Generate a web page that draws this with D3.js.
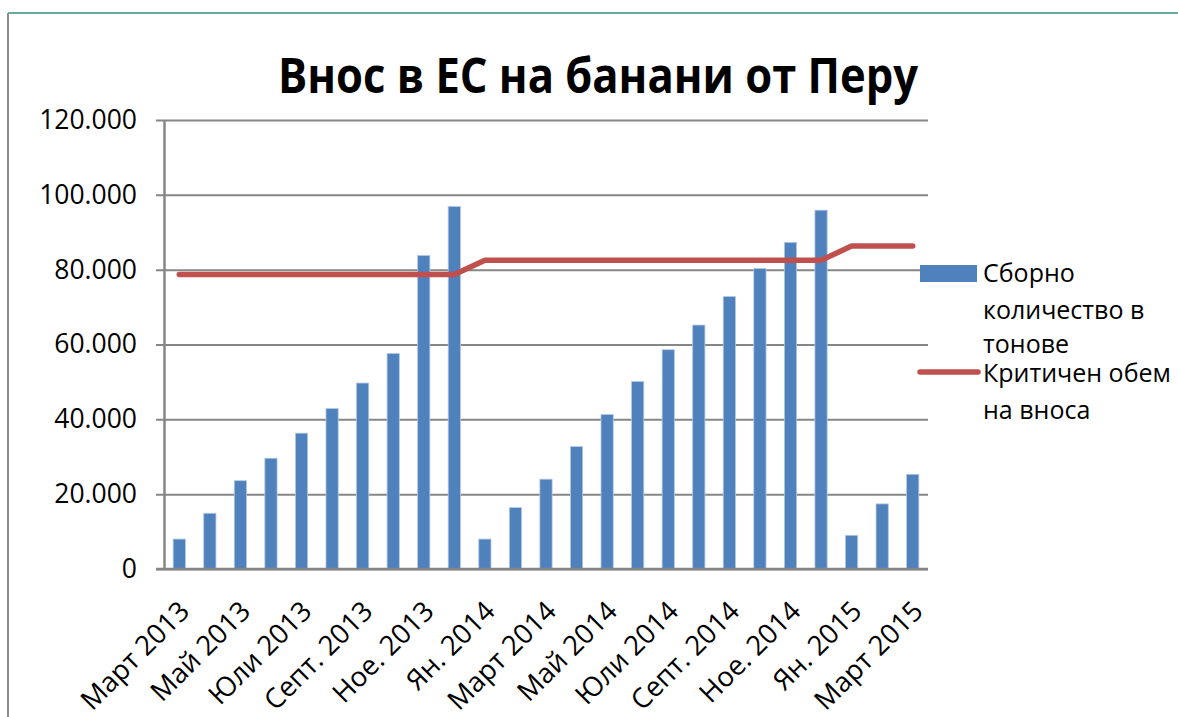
<!DOCTYPE html>
<html>
<head>
<meta charset="utf-8">
<script src="https://cdn.jsdelivr.net/npm/d3@7"></script>
<style>
  html, body { margin: 0; padding: 0; background: #fff; }
  svg { display: block; }
  text { font-family: "Open Sans", "Noto Sans", sans-serif; fill: #000; }
</style>
</head>
<body>
<svg id="chart" width="1178" height="717"></svg>
<script>
const title = "Внос в ЕС на банани от Перу";
const categories = [
  "Март 2013","Април 2013","Май 2013","Юни 2013","Юли 2013","Авг. 2013","Септ. 2013","Окт. 2013","Ное. 2013","Дек. 2013",
  "Ян. 2014","Фев. 2014","Март 2014","Април 2014","Май 2014","Юни 2014","Юли 2014","Авг. 2014","Септ. 2014","Окт. 2014","Ное. 2014","Дек. 2014",
  "Ян. 2015","Фев. 2015","Март 2015"
];
const quantity = [
  8000,14900,23600,29600,36300,42900,49700,57600,83800,96900,
  8000,16400,24000,32700,41300,50100,58600,65200,72800,80300,87300,95900,
  9000,17400,25300
];
const critical = [
  78700,78700,78700,78700,78700,78700,78700,78700,78700,78700,
  82500,82500,82500,82500,82500,82500,82500,82500,82500,82500,82500,82500,
  86300,86300,86300
];
const yTicks = [0,20000,40000,60000,80000,100000,120000];
const seriesNames = ["Сборно количество в тонове", "Критичен обем на вноса"];
const legendLines = [["Сборно","количество в","тонове"],["Критичен обем","на вноса"]];

(function(){
const svg = d3.select("#chart");
const pLeft = 164, pRight = 928, pTop = 120, pBottom = 569;
const blue = "#4F81BD", red = "#C0504D", grid = "#868686";

const x = d3.scaleBand().domain(categories).range([pLeft, pRight]).padding(0);
const y = d3.scaleLinear().domain([0,120000]).range([pBottom, pTop]);
const fmt = d3.formatLocale({decimal:",", thousands:".", grouping:[3], currency:["",""]}).format(",");

// frame
svg.append("line").attr("x1",8).attr("x2",1178).attr("y1",13).attr("y2",13)
  .attr("stroke","#6BA8A2").attr("stroke-width",2);
svg.append("line").attr("x1",8).attr("x2",8).attr("y1",13).attr("y2",717)
  .attr("stroke","#8C8C8C").attr("stroke-width",2);

// title
svg.append("text").attr("x",598).attr("y",93).attr("text-anchor","middle")
  .attr("font-size",49).attr("font-weight","bold")
  .attr("textLength",640).attr("lengthAdjust","spacingAndGlyphs")
  .text(title);

// gridlines
const gy = svg.append("g").attr("transform",`translate(${pRight},0)`);
gy.call(d3.axisLeft(y).tickValues(yTicks).tickSize(pRight-156).tickFormat(""));
gy.select(".domain").remove();
gy.selectAll(".tick line").attr("stroke",grid).attr("stroke-width",2);

// y axis
const gl = svg.append("g").attr("transform",`translate(${pLeft},0)`);
gl.call(d3.axisLeft(y).tickValues(yTicks).tickSize(0).tickPadding(27).tickFormat(fmt));
gl.select(".domain").attr("stroke",grid).attr("stroke-width",2.5);
gl.selectAll(".tick text").attr("font-size",26.5).attr("font-family",'"Open Sans", sans-serif').attr("fill","#000");

// bars
const bw = x.bandwidth()*0.4;
svg.append("g").selectAll("rect").data(quantity).join("rect")
  .attr("x",(d,i)=>x(categories[i]) + x.bandwidth()/2 - bw/2)
  .attr("y",d=>y(d))
  .attr("width",bw)
  .attr("height",d=>y(0)-y(d))
  .attr("fill",blue).attr("stroke","#B3C8E3").attr("stroke-width",0.8);

// x axis
const gx = svg.append("g").attr("transform",`translate(0,${pBottom})`);
gx.call(d3.axisBottom(x).tickSize(0).tickFormat(""));
gx.select(".domain").attr("stroke",grid).attr("stroke-width",2.5)
  .attr("d",`M156,0H${pRight}`);
gx.selectAll(".tick").remove();

// category labels (every other)
svg.append("g").selectAll("text").data(categories.filter((d,i)=>i%2===0)).join("text")
  .attr("transform",d=>`translate(${x(d)+x.bandwidth()/2+5},${pBottom+37}) rotate(-45)`)
  .attr("text-anchor","end").attr("dy","0.35em").attr("font-size",27.5)
  .text(d=>d);

// line
const line = d3.line().x((d,i)=>x(categories[i])+x.bandwidth()/2).y(d=>y(d));
svg.append("path").datum(critical).attr("d",line)
  .attr("fill","none").attr("stroke",red).attr("stroke-width",5.5)
  .attr("stroke-linecap","round").attr("stroke-linejoin","round");

// legend
const lg = svg.append("g");
lg.append("rect").attr("x",920).attr("y",265).attr("width",57).attr("height",17).attr("fill",blue);
lg.append("line").attr("x1",920).attr("x2",978).attr("y1",372).attr("y2",372)
  .attr("stroke",red).attr("stroke-width",5.5).attr("stroke-linecap","round");
const lys = [[273,310,344],[373,410]];
legendLines.forEach((lines,si)=>{
  lines.forEach((t,li)=>{
    lg.append("text").attr("x",983).attr("y",lys[si][li]).attr("dy","0.35em")
      .attr("font-size",25).text(t);
  });
});
})();
</script>
</body>
</html>
